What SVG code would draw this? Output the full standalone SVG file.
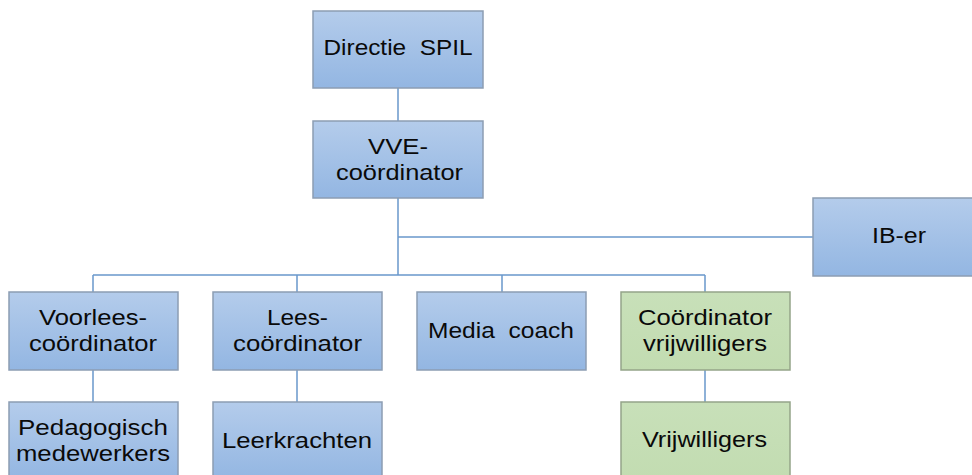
<svg xmlns="http://www.w3.org/2000/svg" width="972" height="475" viewBox="0 0 972 475">
<defs>
<linearGradient id="gb" x1="0" y1="0" x2="0" y2="1">
<stop offset="0" stop-color="#b4cceb"/>
<stop offset="1" stop-color="#93b6e2"/>
</linearGradient>
<linearGradient id="gg" x1="0" y1="0" x2="0" y2="1">
<stop offset="0" stop-color="#c8e0b9"/>
<stop offset="1" stop-color="#c2dcb1"/>
</linearGradient>
</defs>
<style>
.b{fill:url(#gb);stroke:#8c9db3;stroke-width:1.5}
.g{fill:url(#gg);stroke:#94a489;stroke-width:1.5}
.t{font-family:"Liberation Sans",Arial,sans-serif;font-size:22px;fill:#0a0a0a;text-anchor:middle;white-space:pre}
.c{fill:none;stroke:#6a98cc;stroke-width:1.5}
</style>
<rect width="972" height="475" fill="#fff"/>
<g id="connectors">
<path class="c" d="M398 88V121M398 198V275M398 237H813M93 275H705M93 275V292M297 275V292M502 275V292M705 275V292M93 370V402M297 370V402M705 370V402"/>
</g>
<g id="directie"><rect class="b" x="313" y="11" width="170" height="77"/><text class="t" x="398" y="55" textLength="149" lengthAdjust="spacingAndGlyphs" xml:space="preserve">Directie  SPIL</text></g>
<g id="vve"><rect class="b" x="313" y="121" width="170" height="77"/><text class="t" x="398" y="154" textLength="60" lengthAdjust="spacingAndGlyphs">VVE-</text><text class="t" x="399.5" y="180" textLength="127" lengthAdjust="spacingAndGlyphs">coördinator</text></g>
<g id="iber"><rect class="b" x="813" y="198" width="162" height="78"/><text class="t" x="899" y="243" textLength="54" lengthAdjust="spacingAndGlyphs">IB-er</text></g>
<g id="voorlees"><rect class="b" x="9" y="292" width="169" height="78"/><text class="t" x="93" y="325" textLength="108" lengthAdjust="spacingAndGlyphs">Voorlees-</text><text class="t" x="93" y="351" textLength="128" lengthAdjust="spacingAndGlyphs">coördinator</text></g>
<g id="lees"><rect class="b" x="213" y="292" width="169" height="78"/><text class="t" x="297.5" y="325" textLength="61" lengthAdjust="spacingAndGlyphs">Lees-</text><text class="t" x="297.5" y="351" textLength="129" lengthAdjust="spacingAndGlyphs">coördinator</text></g>
<g id="media"><rect class="b" x="417" y="292" width="169" height="78"/><text class="t" x="501" y="338" textLength="146" lengthAdjust="spacingAndGlyphs" xml:space="preserve">Media  coach</text></g>
<g id="coordvrij"><rect class="g" x="621" y="292" width="169" height="78"/><text class="t" x="705" y="325" textLength="134" lengthAdjust="spacingAndGlyphs">Coördinator</text><text class="t" x="705" y="351" textLength="124" lengthAdjust="spacingAndGlyphs">vrijwilligers</text></g>
<g id="pedagogisch"><rect class="b" x="9" y="402" width="169" height="78"/><text class="t" x="93" y="435" textLength="150" lengthAdjust="spacingAndGlyphs">Pedagogisch</text><text class="t" x="93" y="461" textLength="154" lengthAdjust="spacingAndGlyphs">medewerkers</text></g>
<g id="leerkrachten"><rect class="b" x="213" y="402" width="169" height="78"/><text class="t" x="297" y="448" textLength="150" lengthAdjust="spacingAndGlyphs">Leerkrachten</text></g>
<g id="vrijwilligers"><rect class="g" x="621" y="402" width="169" height="78"/><text class="t" x="704.5" y="447" textLength="125" lengthAdjust="spacingAndGlyphs">Vrijwilligers</text></g>
</svg>
